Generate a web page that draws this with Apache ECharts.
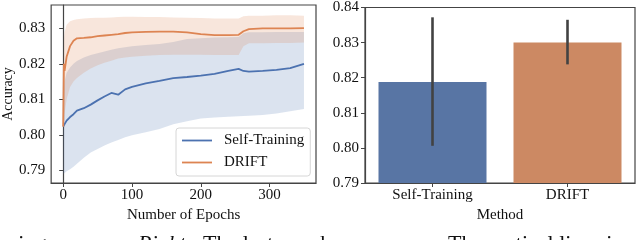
<!DOCTYPE html>
<html><head><meta charset="utf-8">
<script src="https://cdn.jsdelivr.net/npm/echarts@6/dist/echarts.min.js"></script>
<style>html,body{margin:0;padding:0;background:#fff}#c{width:640px;height:240px}</style>
</head><body><div id="c"></div>
<script>
// ---- Left: learning curve ----
const epochs  = [0, 1, 2, 5, 10, 15, 20, 30, 40, 50, 60, 70, 80, 90, 100, 120, 140, 160, 180, 200, 220, 240, 255, 262, 270, 290, 310, 330, 350];
const stMean  = [0.8023,0.8026,0.8030,0.8040,0.8050,0.8058,0.8068,0.8075,0.8085,0.8097,0.8108,0.8118,0.8113,0.8128,0.8135,0.8145,0.8152,0.8160,0.8163,0.8167,0.8172,0.8180,0.8186,0.8180,0.8178,0.8180,0.8183,0.8188,0.8200];
const stLow   = [0.7890,0.7890,0.7892,0.7897,0.7903,0.7910,0.7918,0.7935,0.7950,0.7960,0.7970,0.7978,0.7985,0.7993,0.7999,0.8007,0.8016,0.8030,0.8038,0.8046,0.8049,0.8051,0.8052,0.8053,0.8054,0.8056,0.8060,0.8066,0.8073];
const stHigh  = [0.8030,0.8120,0.8150,0.8175,0.8190,0.8200,0.8208,0.8218,0.8225,0.8230,0.8235,0.8240,0.8244,0.8247,0.8250,0.8253,0.8256,0.8262,0.8270,0.8272,0.8274,0.8275,0.8276,0.8286,0.8289,0.8289,0.8290,0.8290,0.8290];
const drMean  = [0.8023,0.8200,0.8180,0.8220,0.8250,0.8265,0.8272,0.8273,0.8275,0.8278,0.8280,0.8282,0.8284,0.8287,0.8289,0.8290,0.8291,0.8291,0.8289,0.8284,0.8281,0.8281,0.8282,0.8292,0.8298,0.8300,0.8300,0.8300,0.8301];
const drLow   = [0.8020,0.8030,0.8060,0.8100,0.8135,0.8150,0.8160,0.8175,0.8187,0.8196,0.8203,0.8209,0.8215,0.8218,0.8220,0.8223,0.8225,0.8226,0.8226,0.8226,0.8225,0.8225,0.8225,0.8250,0.8258,0.8258,0.8259,0.8259,0.8260];
const drHigh  = [0.8030,0.8270,0.8290,0.8310,0.8320,0.8324,0.8326,0.8328,0.8329,0.8330,0.8330,0.8331,0.8332,0.8333,0.8333,0.8332,0.8332,0.8331,0.8330,0.8329,0.8328,0.8328,0.8328,0.8334,0.8336,0.8336,0.8337,0.8337,0.8336];
const leftXTicks = [0, 100, 200, 300];
const leftYTicks = [0.79, 0.80, 0.81, 0.82, 0.83];

// ---- Right: last epoch accuracy ----
const methods  = ['Self-Training', 'DRIFT'];
const finalAcc = [0.8188, 0.8300];
const errLow   = [0.8006, 0.8238];
const errHigh  = [0.8372, 0.8365];
const rightYTicks = [0.79, 0.80, 0.81, 0.82, 0.83, 0.84];

const BLUE = '#4c72b0', ORANGE = '#dd8452';
const BAR_COLORS = ['#5875a4', '#cc8963'];
const FONT = 'Liberation Serif';
const AX = '#444', TXT = '#111';

const pairs = (ys) => epochs.map((x, i) => [x, ys[i]]);

const chart = echarts.init(document.getElementById('c'), null, {renderer: 'canvas'});

const axisCommon = {
  axisLine: {show: true, lineStyle: {color: AX, width: 1.2}},
  splitLine: {show: false},
  nameTextStyle: {fontFamily: FONT, fontSize: 15, color: TXT},
};
const lbl = (extra) => Object.assign({fontFamily: FONT, fontSize: 15, color: TXT}, extra);

// band drawn as one polygon through the axis scales
const band = (name, lo, hi, color) => ({
  type: 'custom', name: name, xAxisIndex: 0, yAxisIndex: 0, silent: true, z: 1,
  data: [[epochs[0], lo[0], hi[0]]],
  renderItem: (params, api) => {
    const pts = [];
    for (let i = 0; i < epochs.length; i++) pts.push(api.coord([epochs[i], hi[i]]));
    for (let i = epochs.length - 1; i >= 0; i--) pts.push(api.coord([epochs[i], lo[i]]));
    return {type: 'polygon', shape: {points: pts}, style: {fill: color, opacity: 0.2}};
  }
});

const cap = (text, x, italic) => ({
  type: 'text', x: x, y: 233.5, silent: true,
  style: {text: text, font: (italic ? 'italic ' : '') + '22px "Liberation Serif"', fill: '#111', verticalAlign: 'top'}
});

chart.setOption({
  animation: false,
  backgroundColor: '#fff',
  grid: [
    {left: 49, top: 5, width: 267, height: 178, show: true, borderColor: AX, borderWidth: 1.2, backgroundColor: 'transparent'},
    {left: 365, top: 5, width: 270, height: 178, show: true, borderColor: AX, borderWidth: 1.2, backgroundColor: 'transparent'}
  ],
  xAxis: [
    Object.assign({}, axisCommon, {
      gridIndex: 0, type: 'value', min: -17.5, max: 367.5,
      name: 'Number of Epochs', nameLocation: 'middle', nameGap: 15,
      axisTick: {show: true, length: 4, lineStyle: {color: AX}, customValues: leftXTicks},
      axisLabel: lbl({margin: 5, customValues: leftXTicks})
    }),
    Object.assign({}, axisCommon, {
      gridIndex: 1, type: 'category', data: methods, boundaryGap: true,
      name: 'Method', nameLocation: 'middle', nameGap: 15,
      axisTick: {show: true, length: 4, alignWithLabel: true, lineStyle: {color: AX}},
      axisLabel: lbl({margin: 5})
    })
  ],
  yAxis: [
    Object.assign({}, axisCommon, {
      gridIndex: 0, type: 'value', min: 0.7864, max: 0.8366,
      name: 'Accuracy', nameLocation: 'middle', nameGap: 36,
      nameTextStyle: {fontFamily: FONT, fontSize: 14, color: TXT},
      axisTick: {show: true, length: 4, lineStyle: {color: AX}, customValues: leftYTicks},
      axisLabel: lbl({margin: 6, customValues: leftYTicks, formatter: v => v.toFixed(2)})
    }),
    Object.assign({}, axisCommon, {
      gridIndex: 1, type: 'value', min: 0.79, max: 0.84,
      axisTick: {show: true, length: 4, lineStyle: {color: AX}, customValues: rightYTicks},
      axisLabel: lbl({margin: 6, customValues: rightYTicks, formatter: v => v.toFixed(2)})
    })
  ],
  legend: {
    data: [
      {name: 'Self-Training', icon: 'rect', itemStyle: {color: BLUE}},
      {name: 'DRIFT', icon: 'rect', itemStyle: {color: ORANGE}}
    ],
    orient: 'vertical', left: 176, top: 128,
    backgroundColor: 'rgba(255,255,255,0.85)', borderColor: '#d6d6d6', borderWidth: 1, borderRadius: 3,
    padding: [5, 6, 6, 6], itemWidth: 30, itemHeight: 1.8, itemGap: 7,
    textStyle: {fontFamily: FONT, fontSize: 15, color: TXT, padding: [0, 0, 0, 7]}
  },
  series: [
    band('stBand', stLow, stHigh, BLUE),
    band('drBand', drLow, drHigh, ORANGE),
    {type: 'line', name: 'Self-Training', xAxisIndex: 0, yAxisIndex: 0, symbol: 'none', data: pairs(stMean),
     itemStyle: {color: BLUE}, lineStyle: {color: BLUE, width: 1.8}, z: 5},
    {type: 'line', name: 'DRIFT', xAxisIndex: 0, yAxisIndex: 0, symbol: 'none', data: pairs(drMean),
     itemStyle: {color: ORANGE}, lineStyle: {color: ORANGE, width: 1.8}, z: 5},
    {type: 'bar', name: 'final', xAxisIndex: 1, yAxisIndex: 1, barWidth: '80%',
     data: finalAcc.map((v, i) => ({value: v, itemStyle: {color: BAR_COLORS[i]}}))},
    {type: 'custom', name: 'err', xAxisIndex: 1, yAxisIndex: 1, z: 10,
     data: methods.map((m, i) => [i, errLow[i], errHigh[i]]),
     renderItem: (params, api) => {
       const a = api.coord([api.value(0), api.value(1)]);
       const b = api.coord([api.value(0), api.value(2)]);
       return {type: 'line', shape: {x1: a[0], y1: a[1], x2: b[0], y2: b[1]}, style: {stroke: '#424242', lineWidth: 2.6}};
     }}
  ],
  graphic: [
    cap('rning curve.', 0, false),
    cap('Right:', 138, true),
    cap('The last epoch accuracy.', 203, false),
    cap('The vertical lines in', 448, false)
  ]
});
</script></body></html>
